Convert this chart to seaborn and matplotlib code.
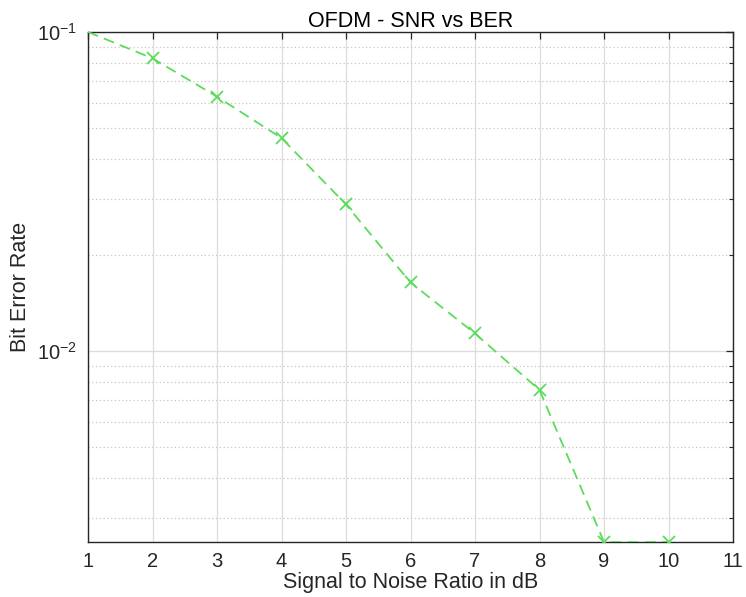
import matplotlib
matplotlib.use("Agg")
import matplotlib.pyplot as plt
import matplotlib.ticker as mticker
import seaborn as sns
import pandas as pd

# SNR sweep and measured bit error rate
snr_db = [1, 2, 3, 4, 5, 6, 7, 8, 9, 10]
ber = [0.1, 0.0827, 0.0627, 0.0465, 0.0288, 0.0164, 0.01135, 0.00755, 0.00252, 0.00252]
x_ticks = [1, 2, 3, 4, 5, 6, 7, 8, 9, 10, 11]

df = pd.DataFrame({"snr": snr_db, "ber": ber})

sns.set_style("white")
plt.rcParams["font.family"] = ["Liberation Sans", "DejaVu Sans"]
plt.rcParams["mathtext.fontset"] = "custom"
plt.rcParams["mathtext.rm"] = "Liberation Sans"
plt.rcParams["mathtext.it"] = "Liberation Sans"
plt.rcParams["axes.unicode_minus"] = False

text_col = "#262626"
line_col = "#5cdc5c"
fig = plt.figure(figsize=(7.46, 5.97), dpi=100)
ax = fig.add_axes([88 / 746, 1 - 542 / 597, (733 - 88) / 746, (542 - 32) / 597])

sns.lineplot(data=df, x="snr", y="ber", ax=ax, color=line_col,
             linestyle=(0, (6, 3.5)), linewidth=1.3,
             marker="x", markersize=8.5, markeredgewidth=1.3,
             markeredgecolor=line_col, markerfacecolor=line_col,
             markevery=list(range(1, len(snr_db))), zorder=5)

ax.set_yscale("log")
ax.set_xlim(1, 11)
ax.set_ylim(min(ber), 0.1)
ax.set_xticks(x_ticks)
ax.xaxis.set_minor_locator(mticker.NullLocator())
ax.yaxis.set_major_locator(mticker.LogLocator(base=10))
ax.yaxis.set_minor_locator(mticker.LogLocator(base=10, subs=range(2, 10)))
ax.yaxis.set_minor_formatter(mticker.NullFormatter())

ax.grid(True, which="major", color="#dcdcdc", linestyle="-", linewidth=0.9)
ax.grid(True, which="minor", axis="y", color="#c8c8c8", linestyle=(0, (1, 2)), linewidth=0.9)
ax.set_axisbelow(True)

for s in ax.spines.values():
    s.set_visible(True)
    s.set_color(text_col)
    s.set_linewidth(1.0)

ax.tick_params(which="both", direction="in", top=True, right=True, color=text_col,
               labelcolor=text_col)
ax.tick_params(which="major", length=5, width=0.9, labelsize=14.5)
ax.tick_params(axis="x", which="major", pad=7)
ax.tick_params(axis="y", which="major", pad=8)
ax.tick_params(which="minor", length=3, width=0.8)

ax.set_xlabel("Signal to Noise Ratio in dB", fontsize=15.5, color=text_col, labelpad=1)
ax.set_ylabel("Bit Error Rate", fontsize=15.5, color=text_col, labelpad=4)
ax.set_title("OFDM - SNR vs BER", fontsize=15.5, color="black", pad=3.5)

fig.savefig("out.png", dpi=100)
